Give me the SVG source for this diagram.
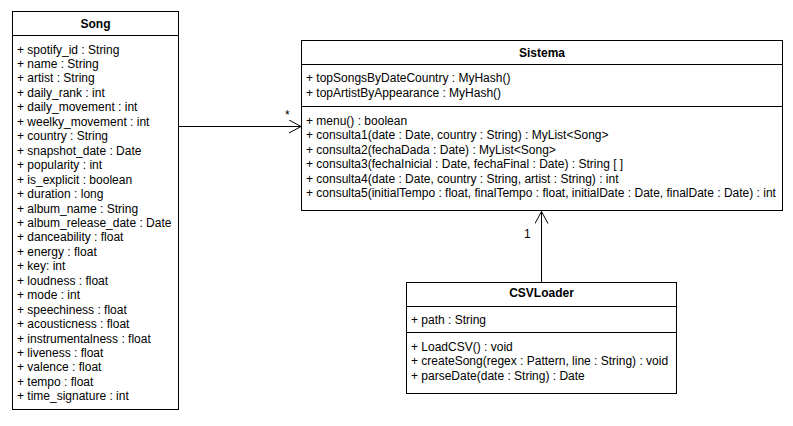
<svg xmlns="http://www.w3.org/2000/svg" width="793" height="426" viewBox="0 0 793 426">
<defs>
<style>
.box{fill:#ffffff;stroke:#000000;stroke-width:1}
.sep{stroke:#000000;stroke-width:1}
text{font-family:"Liberation Sans",Arial,Helvetica,sans-serif;font-size:12px;fill:#000000}
.title{font-weight:bold;text-anchor:middle}
.conn{stroke:#000000;stroke-width:1;fill:none}
</style>
<marker id="open" markerWidth="16" markerHeight="16" refX="13" refY="7" orient="auto" markerUnits="userSpaceOnUse">
<path d="M1,0.5 L13,7 L1,13.5" fill="none" stroke="#000000" stroke-width="1"/>
</marker>
</defs>
<rect width="793" height="426" fill="#ffffff"/>
<g id="connectors">
<line class="conn" x1="179" y1="126.5" x2="301" y2="126.5" marker-end="url(#open)"/>
<text x="285" y="119">*</text>
<line class="conn" x1="541.5" y1="282" x2="541.5" y2="211.5" marker-end="url(#open)"/>
<text x="524" y="237.5">1</text>
</g>
<g id="song">
<rect class="box" x="12.5" y="11.5" width="166" height="398"/>
<line class="sep" x1="12.5" y1="35.5" x2="178.5" y2="35.5"/>
<text class="title" x="95.5" y="27.5">Song</text>
<text x="17" y="53.5">+ spotify_id : String</text>
<text x="17" y="68">+ name : String</text>
<text x="17" y="82.4">+ artist : String</text>
<text x="17" y="96.9">+ daily_rank : int</text>
<text x="17" y="111.3">+ daily_movement : int</text>
<text x="17" y="125.8">+ weelky_movement : int</text>
<text x="17" y="140.2">+ country : String</text>
<text x="17" y="154.7">+ snapshot_date : Date</text>
<text x="17" y="169.1">+ popularity : int</text>
<text x="17" y="183.6">+ is_explicit : boolean</text>
<text x="17" y="198">+ duration : long</text>
<text x="17" y="212.5">+ album_name : String</text>
<text x="17" y="226.9">+ album_release_date : Date</text>
<text x="17" y="241.4">+ danceability : float</text>
<text x="17" y="255.8">+ energy : float</text>
<text x="17" y="270.3">+ key: int</text>
<text x="17" y="284.7">+ loudness : float</text>
<text x="17" y="299.2">+ mode : int</text>
<text x="17" y="313.6">+ speechiness : float</text>
<text x="17" y="328.1">+ acousticness : float</text>
<text x="17" y="342.5">+ instrumentalness : float</text>
<text x="17" y="357">+ liveness : float</text>
<text x="17" y="371.4">+ valence : float</text>
<text x="17" y="385.9">+ tempo : float</text>
<text x="17" y="400.3">+ time_signature : int</text>
</g>
<g id="sistema">
<rect class="box" x="301.5" y="40.5" width="481" height="170"/>
<line class="sep" x1="301.5" y1="64.5" x2="782.5" y2="64.5"/>
<line class="sep" x1="301.5" y1="106.5" x2="782.5" y2="106.5"/>
<text class="title" x="542" y="56.5">Sistema</text>
<text x="306" y="81.5">+ topSongsByDateCountry : MyHash()</text>
<text x="306" y="97">+ topArtistByAppearance : MyHash()</text>
<text x="306" y="124.5">+ menu() : boolean</text>
<text x="306" y="139">+ consulta1(date : Date, country : String) : MyList&lt;Song&gt;</text>
<text x="306" y="153.5">+ consulta2(fechaDada : Date) : MyList&lt;Song&gt;</text>
<text x="306" y="168">+ consulta3(fechaInicial : Date, fechaFinal : Date) : String [ ]</text>
<text x="306" y="182.5">+ consulta4(date : Date, country : String, artist : String) : int</text>
<text x="306" y="197">+ consulta5(initialTempo : float, finalTempo : float, initialDate : Date, finalDate : Date) : int</text>
</g>
<g id="csvloader">
<rect class="box" x="406.5" y="282.5" width="270" height="111"/>
<line class="sep" x1="406.5" y1="306.5" x2="676.5" y2="306.5"/>
<line class="sep" x1="406.5" y1="332.5" x2="676.5" y2="332.5"/>
<text class="title" x="541.5" y="297">CSVLoader</text>
<text x="411" y="323.5">+ path : String</text>
<text x="411" y="350.5">+ LoadCSV() : void</text>
<text x="411" y="365">+ createSong(regex : Pattern, line : String) : void</text>
<text x="411" y="380">+ parseDate(date : String) : Date</text>
</g>
</svg>
